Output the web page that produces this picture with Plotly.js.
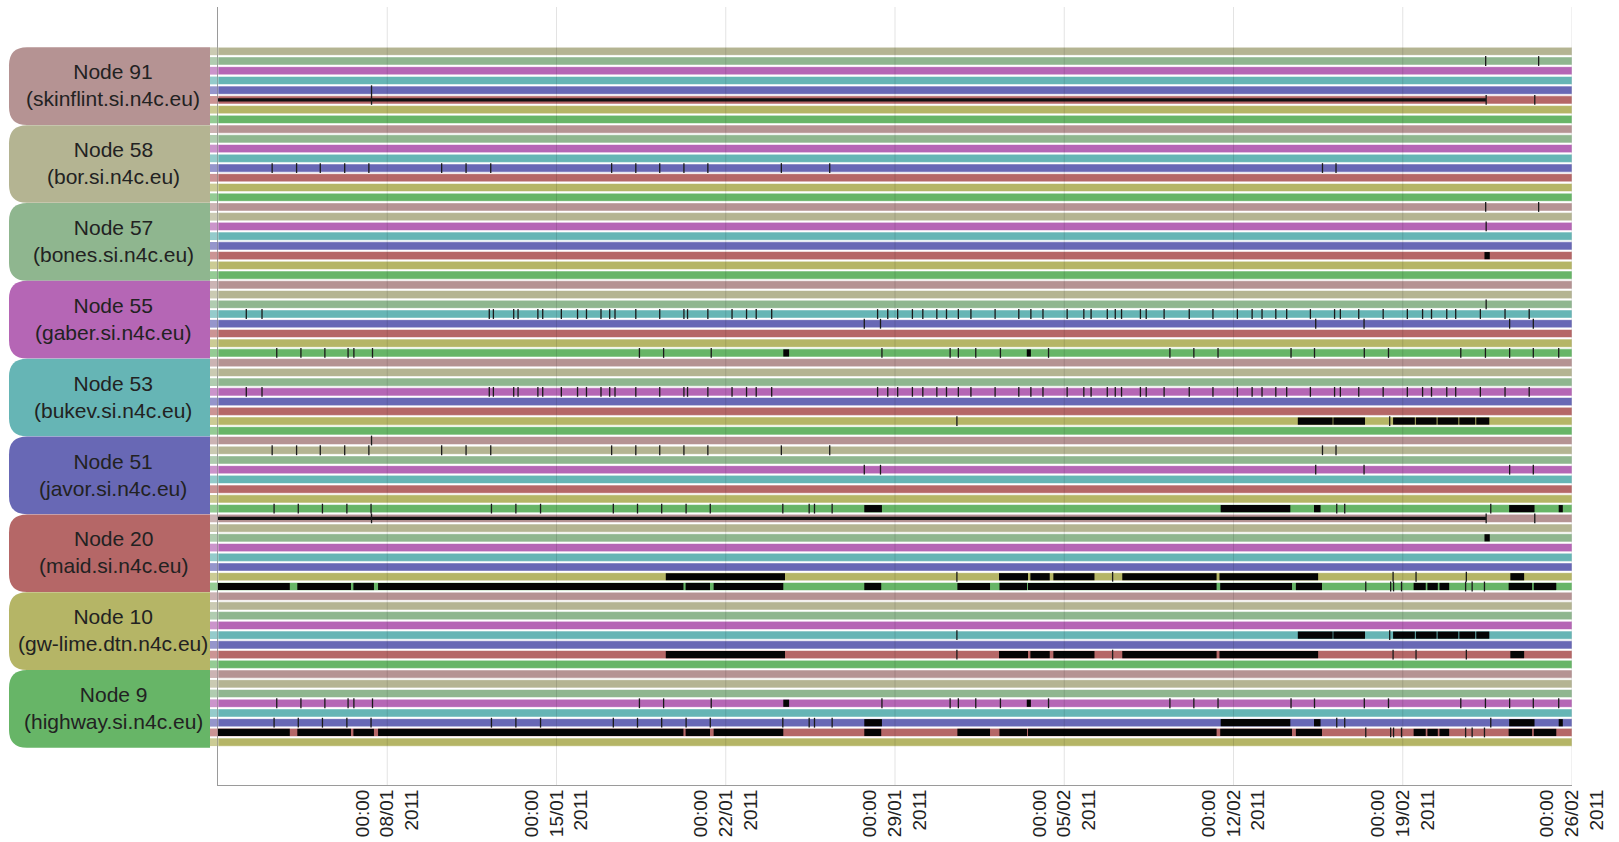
<!DOCTYPE html>
<html>
<head>
<meta charset="utf-8">
<script src="https://cdn.plot.ly/plotly-3.0.1.min.js"></script>
<style>
html,body{margin:0;padding:0;background:#ffffff;}
#chart{width:1619px;height:842px;}
</style>
</head>
<body>
<div id="chart"></div>
<script>
// ---------- data ----------
const nodeIds = ['91','58','57','55','53','51','20','10','9'];
const nodeHosts = ['skinflint.si.n4c.eu','bor.si.n4c.eu','bones.si.n4c.eu','gaber.si.n4c.eu','bukev.si.n4c.eu','javor.si.n4c.eu','maid.si.n4c.eu','gw-lime.dtn.n4c.eu','highway.si.n4c.eu'];
const nodeColors = ['#b59393','#b4b492','#8fb68f','#b566b5','#66b5b5','#6868b5','#b56767','#b5b566','#67b567'];

const rangeStart = '2011-01-01';
const rangeEnd = '2011-02-26';
const tickDates = ['2011-01-08','2011-01-15','2011-01-22','2011-01-29','2011-02-05','2011-02-12','2011-02-19','2011-02-26'];
const tickLabels = ['00:00<br>08/01<br>2011','00:00<br>15/01<br>2011','00:00<br>22/01<br>2011','00:00<br>29/01<br>2011',
                    '00:00<br>05/02<br>2011','00:00<br>12/02<br>2011','00:00<br>19/02<br>2011','00:00<br>26/02<br>2011'];

// events per node pair, in days after 2011-01-01 00:00
const ticks_91_57 = [52.43, 54.62];
const ticks_91_51 = [6.35];
const line_91_20  = [[0, 52.45]];
const ticks_91_20 = [6.35, 52.45, 54.46];
const ticks_58_51 = [2.24, 3.25, 4.23, 5.24, 6.24, 9.25, 10.26, 11.28, 16.28, 17.28, 18.27, 19.27, 20.26, 23.3, 25.3, 45.68, 46.24];
const ticks_57_55 = [52.45];
const blocks_57_20 = [[52.38, 52.6]];
const ticks_55_53 = [1.17, 1.82, 11.22, 11.39, 12.23, 12.41, 13.23, 13.43, 14.2, 14.87, 15.24, 15.84, 16.2, 16.42, 17.28, 18.27,
                     19.27, 19.42, 20.26, 21.26, 21.86, 22.26, 22.9, 27.28, 27.7, 28.11, 28.72, 29.15, 29.73, 30.13, 30.62, 31.14,
                     32.14, 33.12, 33.62, 34.12, 35.12, 35.81, 36.11, 36.78, 37.11, 37.37, 38.15, 38.39, 39.13, 40.17, 41.15, 42.16,
                     42.77, 43.18, 43.75, 44.2, 45.18, 46.18, 46.42, 47.18, 48.19, 49.19, 49.82, 50.19, 50.82, 51.19, 52.21, 53.23, 54.23];
const ticks_55_51 = [26.73, 27.4, 45.4, 47.4, 53.42, 54.4];
const ticks_55_9 = [2.43, 3.43, 4.42, 5.38, 5.62, 6.39, 17.43, 18.43, 20.4, 27.46, 30.28, 30.62, 31.34, 32.36, 34.35, 39.37, 40.36,
                    41.36, 44.38, 45.35, 47.41, 48.41, 51.4, 52.42, 53.42, 54.4, 55.45];
const blocks_55_9 = [[23.38, 23.62], [33.45, 33.62]];
const ticks_53_10 = [30.56, 48.46];
const blocks_53_10 = [[44.66, 46.1], [46.13, 47.44], [48.6, 49.5], [49.54, 50.4], [50.44, 51.3], [51.34, 52.0], [52.04, 52.58]];
const ticks_51_9 = [2.32, 3.32, 4.32, 5.33, 6.33, 11.31, 12.32, 13.34, 16.35, 17.35, 18.35, 19.36, 20.36, 23.36, 24.45, 24.67, 25.4,
                    46.27, 46.6, 52.64];
const blocks_51_9 = [[26.73, 27.46], [41.47, 44.35], [45.33, 45.6], [53.4, 54.45], [55.45, 55.62]];
const ticks_20_10 = [30.56, 37.0, 48.6, 49.55, 51.63];
const blocks_20_10 = [[18.52, 23.45], [32.3, 33.5], [33.6, 34.4], [34.55, 36.25], [37.4, 41.3], [41.42, 45.5], [53.45, 54.02]];
const ticks_20_9 = [47.47, 48.5, 48.62, 48.95, 51.6, 51.87, 52.38];
const blocks_20_9 = [[0, 2.97], [3.28, 5.5], [5.6, 6.45], [6.62, 19.25], [19.34, 20.35], [20.5, 23.38], [26.73, 27.43], [30.58, 31.93],
                     [32.32, 33.46], [33.5, 41.3], [41.45, 44.42], [44.58, 45.66], [49.45, 49.95], [50.02, 50.45], [50.52, 50.92],
                     [53.38, 54.35], [54.42, 55.35]];

// [node A, node B, ticks, blocks, thin lines]
const links = [
  ['91','57', ticks_91_57, [], []],
  ['91','51', ticks_91_51, [], []],
  ['91','20', ticks_91_20, [], line_91_20],
  ['58','51', ticks_58_51, [], []],
  ['57','55', ticks_57_55, [], []],
  ['57','20', [], blocks_57_20, []],
  ['55','53', ticks_55_53, [], []],
  ['55','51', ticks_55_51, [], []],
  ['55','9',  ticks_55_9, blocks_55_9, []],
  ['53','10', ticks_53_10, blocks_53_10, []],
  ['51','9',  ticks_51_9, blocks_51_9, []],
  ['20','10', ticks_20_10, blocks_20_10, []],
  ['20','9',  ticks_20_9, blocks_20_9, []]
];

// ---------- helpers ----------
const T0 = Date.UTC(2011, 0, 1);
const DAY = 86400000;
function dstr(d) {
  const t = new Date(T0 + d * DAY);
  const p = n => String(n).padStart(2, '0');
  return t.getUTCFullYear() + '-' + p(t.getUTCMonth() + 1) + '-' + p(t.getUTCDate()) + ' ' +
         p(t.getUTCHours()) + ':' + p(t.getUTCMinutes()) + ':' + p(t.getUTCSeconds());
}
const nPer = nodeIds.length - 1;
function rowOf(a, b) {
  const g = nodeIds.indexOf(a);
  const others = nodeIds.filter(n => n !== a);
  return g * nPer + others.indexOf(b);
}

// ---------- traces ----------
const traces = [];
const spanMs = Date.parse(rangeEnd) - Date.parse(rangeStart);

// background bars, one trace per colour (colour = the other node)
nodeIds.forEach((cid, ci) => {
  const ys = [];
  nodeIds.forEach(g => { if (g !== cid) ys.push(rowOf(g, cid)); });
  traces.push({
    type: 'bar', orientation: 'h', y: ys, x: ys.map(() => spanMs), base: ys.map(() => rangeStart),
    width: 0.84, marker: {color: nodeColors[ci], line: {color: 'rgba(255,255,255,0.55)', width: 1}},
    hoverinfo: 'skip', showlegend: false
  });
});

// black blocks, thin lines and ticks
const bY = [], bBase = [], bLen = [];
const lY = [], lBase = [], lLen = [];
const tX = [], tY = [];
links.forEach(([a, b, tks, blks, lines]) => {
  [rowOf(a, b), rowOf(b, a)].forEach(r => {
    blks.forEach(([s, e]) => { bY.push(r); bBase.push(dstr(s)); bLen.push((e - s) * DAY); });
    lines.forEach(([s, e]) => { lY.push(r); lBase.push(dstr(s)); lLen.push((e - s) * DAY); });
    tks.forEach(t => { tX.push(dstr(t)); tY.push(r); });
  });
});
traces.push({type: 'bar', orientation: 'h', y: bY, base: bBase, x: bLen, width: 0.74,
             marker: {color: '#050505', line: {width: 0}}, hoverinfo: 'skip', showlegend: false});
traces.push({type: 'bar', orientation: 'h', y: lY, base: lBase, x: lLen, width: 0.32,
             marker: {color: '#111111', line: {width: 0}}, hoverinfo: 'skip', showlegend: false});
traces.push({type: 'scatter', mode: 'markers', x: tX, y: tY,
             marker: {symbol: 'line-ns', size: 7, color: '#1a1a1a', line: {color: '#1a1a1a', width: 1.3}},
             hoverinfo: 'skip', showlegend: false});

// ---------- shapes & annotations ----------
const plotL = 218, plotW = 1354;
const px2paper = v => (v - plotL) / plotW;
const shapes = [];
const annotations = [];

// grid lines drawn over the bars
tickDates.forEach(d => shapes.push({type: 'line', xref: 'x', yref: 'paper', x0: d, x1: d, y0: 0, y1: 1,
  line: {color: 'rgba(0,0,0,0.11)', width: 1}, layer: 'above'}));

// group label boxes, row swatches, labels
const bx0 = px2paper(9), bx1 = px2paper(210), rx = 18 / plotW, ry = 1.85;
nodeIds.forEach((id, g) => {
  const top = g * nPer - 0.41, bot = g * nPer + nPer - 0.43;
  const path = `M ${bx1},${top} L ${bx0 + rx},${top} Q ${bx0},${top} ${bx0},${top + ry} ` +
               `L ${bx0},${bot - ry} Q ${bx0},${bot} ${bx0 + rx},${bot} L ${bx1},${bot} Z`;
  shapes.push({type: 'path', xref: 'paper', yref: 'y', path: path, fillcolor: nodeColors[g],
               line: {width: 0}, layer: 'below'});
  annotations.push({xref: 'paper', yref: 'y', x: px2paper(113), y: g * nPer + (nPer - 1) / 2,
    text: 'Node ' + id + '<br>(' + nodeHosts[g] + ')', showarrow: false, xanchor: 'center', yanchor: 'middle',
    align: 'center', font: {family: 'Liberation Sans, Arial, sans-serif', size: 21, color: '#222'}});
  nodeIds.forEach((o, oi) => {
    if (o === id) return;
    const r = rowOf(id, o);
    shapes.push({type: 'rect', xref: 'paper', yref: 'y', x0: px2paper(210), x1: px2paper(217.5),
                 y0: r - 0.4, y1: r + 0.4, fillcolor: nodeColors[oi], opacity: 0.7, line: {width: 0}});
  });
});

const layout = {
  width: 1619, height: 842,
  margin: {l: 218, r: 47, t: 7, b: 57},
  paper_bgcolor: '#ffffff', plot_bgcolor: '#ffffff',
  barmode: 'overlay',
  showlegend: false,
  hovermode: false,
  font: {family: 'Liberation Sans, Arial, sans-serif', color: '#222'},
  xaxis: {
    type: 'date', range: [rangeStart, rangeEnd], tickvals: tickDates, ticktext: tickLabels,
    tickangle: -90, tickfont: {size: 19, color: '#222'}, showgrid: false, zeroline: false,
    showline: true, linecolor: '#9a9a9a', linewidth: 1, ticks: '', ticklabelstandoff: -4,
    automargin: false, fixedrange: true
  },
  yaxis: {
    range: [75.4, -4.55], showticklabels: false, showgrid: false, zeroline: false,
    showline: true, linecolor: '#9a9a9a', linewidth: 1, ticks: '', automargin: false, fixedrange: true
  },
  shapes: shapes,
  annotations: annotations
};

Plotly.newPlot('chart', traces, layout, {displayModeBar: false, staticPlot: true});
</script>
</body>
</html>
